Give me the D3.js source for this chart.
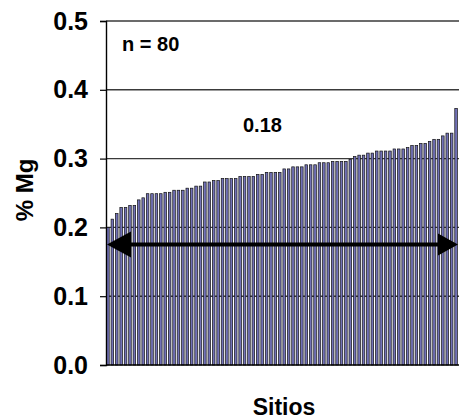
<!DOCTYPE html>
<html>
<head>
<meta charset="utf-8">
<script src="https://cdn.jsdelivr.net/npm/d3@7"></script>
<style>
  html, body { margin: 0; padding: 0; background: #fff; }
  svg { display: block; font-family: "Liberation Sans", Arial, sans-serif; font-weight: bold; }
</style>
</head>
<body>
<div id="chart"></div>
<script>
// Mg content (%) per site, sorted ascending (n = 80)
const mgValues = [
  0.200, 0.212, 0.220, 0.229, 0.229, 0.232, 0.232, 0.240, 0.243, 0.249,
  0.249, 0.249, 0.249, 0.251, 0.251, 0.254, 0.254, 0.254, 0.257, 0.257,
  0.260, 0.260, 0.266, 0.266, 0.268, 0.268, 0.271, 0.271, 0.271, 0.271,
  0.274, 0.274, 0.274, 0.274, 0.277, 0.277, 0.280, 0.280, 0.280, 0.280,
  0.285, 0.285, 0.288, 0.288, 0.288, 0.291, 0.291, 0.291, 0.294, 0.294,
  0.294, 0.296, 0.296, 0.296, 0.296, 0.299, 0.303, 0.305, 0.305, 0.308,
  0.308, 0.311, 0.311, 0.311, 0.311, 0.314, 0.314, 0.314, 0.316, 0.319,
  0.319, 0.322, 0.322, 0.325, 0.328, 0.328, 0.333, 0.337, 0.337, 0.373
];
const sites = mgValues.map((_, i) => i + 1);
const yTicks = [0.0, 0.1, 0.2, 0.3, 0.4, 0.5];
const arrowLevel = [0.175];
const annotations = ["n = 80", "0.18"];
const axisTitles = ["% Mg", "Sitios"];

const W = 459, H = 420;
const m = { left: 106, right: 1, top: 21, bottom: 55 };

const svg = d3.select("#chart").append("svg")
  .attr("width", W).attr("height", H);

const x = d3.scaleBand().domain(sites)
  .range([m.left, W - m.right]).paddingInner(0.42).paddingOuter(0.15);
const y = d3.scaleLinear().domain([0, 0.5]).range([H - m.bottom, m.top]);

// horizontal gridlines
svg.append("g").selectAll("line").data(yTicks.filter(d => d > 0)).join("line")
  .attr("x1", m.left).attr("x2", W)
  .attr("y1", d => y(d)).attr("y2", d => y(d))
  .attr("stroke", "#3a3a3a").attr("stroke-width", 1.4);

// bars
svg.append("g").selectAll("rect").data(mgValues).join("rect")
  .attr("x", (d, i) => x(sites[i]))
  .attr("width", x.bandwidth())
  .attr("y", d => y(d))
  .attr("height", d => y(0) - y(d))
  .attr("fill", "#7272b8")
  .attr("stroke", "#111").attr("stroke-width", 0.7);

// y axis
const yAxis = d3.axisLeft(y).tickValues(yTicks).tickFormat(d3.format(".1f"))
  .tickSize(6).tickPadding(12);
const gy = svg.append("g").attr("transform", `translate(${m.left},0)`).call(yAxis);
gy.select(".domain").attr("stroke", "#000").attr("stroke-width", 1.4);
gy.selectAll(".tick line").attr("stroke", "#000").attr("stroke-width", 1.2);
gy.selectAll(".tick text").attr("font-size", 25).attr("font-weight", "bold")
  .attr("font-family", "'Liberation Sans', Arial, sans-serif").attr("fill", "#000");

// x axis baseline
svg.append("line")
  .attr("x1", m.left).attr("x2", W)
  .attr("y1", y(0)).attr("y2", y(0))
  .attr("stroke", "#000").attr("stroke-width", 1.6);

// double-headed arrow spanning the sites
const ay = y(arrowLevel[0]);
const ax0 = m.left + 1, ax1 = W - 1;
svg.append("line")
  .attr("x1", ax0 + 20).attr("x2", ax1 - 20)
  .attr("y1", ay).attr("y2", ay)
  .attr("stroke", "#000").attr("stroke-width", 4);
svg.append("path")
  .attr("d", `M${ax0},${ay} L${ax0 + 24},${ay - 13} L${ax0 + 24},${ay + 13} Z`)
  .attr("fill", "#000");
svg.append("path")
  .attr("d", `M${ax1},${ay} L${ax1 - 20},${ay - 11} L${ax1 - 20},${ay + 11} Z`)
  .attr("fill", "#000");

// annotations
svg.append("text").attr("x", 122).attr("y", 51)
  .attr("font-size", 20).text(annotations[0]);
svg.append("text").attr("x", 243).attr("y", 132)
  .attr("font-size", 20).text(annotations[1]);

// axis titles
svg.append("text")
  .attr("transform", `translate(33,190) rotate(-90)`)
  .attr("text-anchor", "middle").attr("font-size", 24).text(axisTitles[0]);
svg.append("text").attr("x", 284).attr("y", 415)
  .attr("text-anchor", "middle").attr("font-size", 23).text(axisTitles[1]);
</script>
</body>
</html>
